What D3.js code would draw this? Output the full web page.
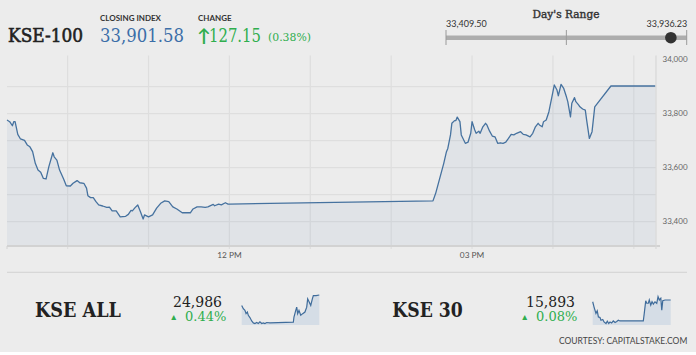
<!DOCTYPE html>
<html><head><meta charset="utf-8">
<script src="https://cdn.jsdelivr.net/npm/d3@7"></script>
<style>
html,body{margin:0;padding:0;background:#ececec;}
svg{display:block;}
</style></head>
<body>
<svg id="c" width="696" height="355"></svg>
<script>
// ---- data ----
const kseTimes = ["09:15","09:17","09:19","09:20","09:21","09:23","09:25","09:28","09:30","09:32","09:34","09:36","09:38","09:40","09:42","09:44","09:46","09:49","09:50","09:52","09:54","09:57","09:59","10:02","10:04","10:07","10:09","10:12","10:14","10:15","10:17","10:19","10:21","10:23","10:26","10:29","10:31","10:33","10:36","10:39","10:43","10:45","10:47","10:48","10:50","10:52","10:54","10:56","10:57","11:00","11:03","11:06","11:09","11:12","11:15","11:18","11:21","11:25","11:28","11:31","11:33","11:36","11:39","11:42","11:44","11:48","11:49","11:52","11:54","11:57","11:59","12:00","14:31","14:33","14:35","14:37","14:39","14:41","14:42","14:44","14:45","14:47","14:48","14:49","14:51","14:52","14:55","14:57","14:59","15:00","15:02","15:03","15:05","15:06","15:08","15:10","15:11","15:13","15:15","15:17","15:19","15:21","15:23","15:25","15:27","15:29","15:31","15:33","15:36","15:38","15:40","15:43","15:45","15:47","15:49","15:50","15:52","15:53","15:55","15:57","15:59","16:01","16:03","16:04","16:06","16:08","16:10","16:11","16:13","16:14","16:16","16:17","16:19","16:20","16:22","16:24","16:25","16:27","16:29","16:31","16:33","16:43","17:16"];
const kseValues = [33776,33770,33755,33770,33770,33723,33706,33701,33684,33677,33659,33616,33591,33583,33560,33558,33603,33655,33640,33628,33591,33558,33533,33532,33542,33552,33544,33542,33524,33496,33489,33489,33474,33462,33458,33453,33454,33440,33440,33418,33420,33427,33442,33440,33452,33462,33437,33410,33425,33418,33425,33450,33468,33477,33474,33455,33447,33433,33433,33433,33447,33455,33455,33453,33455,33464,33459,33465,33462,33470,33465,33465,33477,33505,33542,33579,33616,33659,33671,33721,33764,33774,33774,33787,33770,33721,33690,33694,33727,33770,33739,33727,33735,33727,33751,33764,33758,33735,33717,33714,33690,33692,33690,33694,33708,33723,33721,33727,33733,33723,33721,33714,33727,33751,33764,33758,33751,33770,33776,33807,33856,33906,33887,33866,33908,33893,33862,33844,33788,33838,33859,33844,33832,33825,33817,33813,33776,33708,33733,33825,33838,33902,33902];
const yTickValues = [33400,33600,33800,34000];
const yGridValues = [33400,33500,33600,33700,33800,33900];
const xTickLabels = ["12:00","15:00"];

const closingIndex = "33,901.58";
const changeValue = "127.15";
const changePct = "(0.38%)";
const dayLow = 33409.50, dayHigh = 33936.23, dayClose = 33901.58;

const allTimes = ["09:15","09:25","09:35","09:42","09:50","09:56","10:06","10:17","10:27","10:37","10:48","10:58","11:08","11:19","11:29","11:39","11:50","12:10","14:35","14:39","14:50","14:56","15:02","15:10","15:21","15:33","15:47","15:58","16:04","16:14","16:23","16:33","16:39","16:56","17:16"];
const allValues = [24880,24847,24830,24797,24813,24780,24757,24723,24703,24697,24707,24697,24713,24697,24703,24697,24707,24703,24710,24763,24830,24863,24797,24830,24780,24797,24813,24863,24947,24913,24880,24947,24980,24980,24986];
const k30Times = ["09:15","09:23","09:29","09:35","09:43","09:50","10:00","10:06","10:17","10:25","10:37","10:45","10:54","11:02","11:12","11:22","11:33","11:43","11:53","12:03","14:27","14:33","14:42","14:48","14:58","15:04","15:13","15:21","15:29","15:39","15:50","15:58","16:06","16:15","16:21","16:27","16:41","17:16"];
const k30Values = [15879,15839,15813,15787,15807,15759,15755,15733,15739,15719,15707,15725,15707,15719,15711,15727,15715,15723,15733,15727,15727,15787,15887,15867,15867,15893,15853,15879,15861,15879,15867,15919,15893,15907,15813,15887,15893,15893];

// ---- drawing ----
const parse = d3.timeParse("%H:%M");
const svg = d3.select("#c");
const serif = "'DejaVu Serif', serif";
const sans = "Lato, 'Open Sans', sans-serif";
const green = "#2fae4e";

// header
svg.append("text").attr("x", 8).attr("y", 42).attr("font-family", serif)
  .attr("font-size", 18).attr("fill", "#222").attr("stroke", "#222").attr("stroke-width", 0.6)
  .attr("textLength", 75).attr("lengthAdjust", "spacingAndGlyphs").text("KSE-100");
svg.append("text").attr("x", 100).attr("y", 21.3).attr("font-family", sans).attr("font-weight", "bold")
  .attr("font-size", 8).attr("fill", "#333").text("CLOSING INDEX");
svg.append("text").attr("x", 100).attr("y", 42).attr("font-family", serif)
  .attr("font-size", 18).attr("fill", "#3b6ea8").attr("textLength", 84).attr("lengthAdjust", "spacingAndGlyphs").text(closingIndex);
svg.append("text").attr("x", 198).attr("y", 21.3).attr("font-family", sans).attr("font-weight", "bold")
  .attr("font-size", 8).attr("fill", "#333").text("CHANGE");
svg.append("text").attr("x", 197).attr("y", 42).attr("font-family", sans).attr("font-weight", "bold")
  .attr("font-size", 18).attr("fill", green).text("\u2191");
svg.append("text").attr("x", 209).attr("y", 42).attr("font-family", serif)
  .attr("font-size", 18).attr("fill", green).attr("textLength", 52).attr("lengthAdjust", "spacingAndGlyphs").text(changeValue);
svg.append("text").attr("x", 268).attr("y", 41).attr("font-family", serif)
  .attr("font-size", 11.5).attr("fill", green).attr("textLength", 43).attr("lengthAdjust", "spacingAndGlyphs").text(changePct);

// day's range
const rx = d3.scaleLinear().domain([dayLow, dayHigh]).range([446, 686.7]);
svg.append("text").attr("x", 566).attr("y", 18.3).attr("text-anchor", "middle").attr("font-family", serif)
  .attr("font-size", 11).attr("fill", "#333").attr("stroke", "#333").attr("stroke-width", 0.4)
  .attr("textLength", 67).attr("lengthAdjust", "spacingAndGlyphs").text("Day's Range");
svg.append("text").attr("x", rx(dayLow)).attr("y", 26.7).attr("font-family", sans)
  .attr("font-size", 9).attr("fill", "#333").text(d3.format(",.2f")(dayLow));
svg.append("text").attr("x", rx(dayHigh) + 0.5).attr("y", 26.7).attr("text-anchor", "end").attr("font-family", sans)
  .attr("font-size", 9).attr("fill", "#333").text(d3.format(",.2f")(dayHigh));
svg.append("rect").attr("x", rx(dayLow)).attr("y", 35.5).attr("width", rx(dayHigh) - rx(dayLow)).attr("height", 4.5).attr("fill", "#adadad");
[dayLow, (dayLow + dayHigh) / 2, dayHigh].forEach(v => {
  svg.append("line").attr("x1", rx(v)).attr("x2", rx(v)).attr("y1", 30).attr("y2", 45).attr("stroke", "#9a9a9a").attr("stroke-width", 1);
});
svg.append("circle").attr("cx", rx(dayClose)).attr("cy", 37.7).attr("r", 5.8).attr("fill", "#333");

// main chart
const x = d3.scaleTime().domain([parse("09:15"), parse("17:16")]).range([7, 655.4]);
const y = d3.scaleLinear().domain([33310, 34016]).range([246, 55.2]);
const data = kseTimes.map((t, i) => ({t: parse(t), v: kseValues[i]}));

svg.append("clipPath").attr("id", "clipTop").append("rect").attr("x", 0).attr("y", 55.5).attr("width", 696).attr("height", 215);
const g = svg.append("g").attr("clip-path", "url(#clipTop)");

// grid
g.selectAll(".hg").data(yGridValues).enter().append("line")
  .attr("x1", 7).attr("x2", 656).attr("y1", d => y(d)).attr("y2", d => y(d))
  .attr("stroke", "#dedede").attr("stroke-width", 1.2);
const hours = d3.timeHour.range(parse("10:00"), parse("17:30"));
g.selectAll(".vg").data(hours).enter().append("line")
  .attr("x1", d => x(d)).attr("x2", d => x(d)).attr("y1", 55).attr("y2", 249)
  .attr("stroke", "#dedede").attr("stroke-width", 1.2);

// area + line
const area = d3.area().x(d => x(d.t)).y0(y(33310)).y1(d => y(d.v));
const line = d3.line().x(d => x(d.t)).y(d => y(d.v));
g.append("path").datum(data).attr("d", area).attr("fill", "#5a84b0").attr("fill-opacity", 0.08);
g.append("path").datum(data).attr("d", line).attr("fill", "none").attr("stroke", "#46729f").attr("stroke-width", 1.3).attr("stroke-linejoin", "round");

// axes lines
g.append("line").attr("x1", 7).attr("x2", 660).attr("y1", 246).attr("y2", 246).attr("stroke", "#d2d2d2").attr("stroke-width", 2);
g.append("line").attr("x1", 7).attr("x2", 7).attr("y1", 246).attr("y2", 249).attr("stroke", "#d2d2d2").attr("stroke-width", 1);
g.append("line").attr("x1", 656).attr("x2", 656).attr("y1", 55).attr("y2", 249).attr("stroke", "#d8d8d8").attr("stroke-width", 1.2);

// y labels
g.selectAll(".yl").data(yTickValues).enter().append("text")
  .attr("x", 662.5).attr("y", d => y(d)).attr("dy", "0.35em")
  .attr("font-family", sans).attr("font-size", 8).attr("fill", "#666")
  .text(d => d3.format(",")(d));
// x labels
g.selectAll(".xl").data(xTickLabels.map(parse)).enter().append("text")
  .attr("x", d => x(d)).attr("y", 258.3).attr("text-anchor", "middle")
  .attr("font-family", sans).attr("font-size", 8.3).attr("fill", "#555")
  .text(d => d3.timeFormat("%I %p")(d));

// separator
svg.append("line").attr("x1", 7).attr("x2", 687).attr("y1", 272.3).attr("y2", 272.3).attr("stroke", "#d3d3d3").attr("stroke-width", 1);

// bottom panels
function panel(name, nameX, nameW, value, valueCx, pct, triX, pctX, times, values, sx0, sx1, syTop) {
  svg.append("text").attr("x", nameX).attr("y", 316.7).attr("font-family", serif).attr("font-weight", "bold")
    .attr("font-size", 21).attr("fill", "#222").attr("textLength", nameW).attr("lengthAdjust", "spacingAndGlyphs").text(name);
  svg.append("text").attr("x", valueCx).attr("y", 306.5).attr("text-anchor", "middle").attr("font-family", serif)
    .attr("font-size", 14).attr("fill", "#222").text(value);
  svg.append("text").attr("x", triX).attr("y", 319.5).attr("font-family", sans)
    .attr("font-size", 8.5).attr("fill", green).text("\u25B2");
  svg.append("text").attr("x", pctX).attr("y", 321).attr("font-family", serif)
    .attr("font-size", 13).attr("fill", green).text(pct);
  const sd = times.map((t, i) => ({t: parse(t), v: values[i]}));
  const sx = d3.scaleTime().domain([parse("09:15"), parse("17:16")]).range([sx0, sx1]);
  const sy = d3.scaleLinear().domain(d3.extent(values)).range([323.5, syTop]);
  svg.append("path").datum(sd).attr("d", d3.area().x(d => sx(d.t)).y0(325).y1(d => sy(d.v)))
    .attr("fill", "#d5dde6");
  svg.append("path").datum(sd).attr("d", d3.line().x(d => sx(d.t)).y(d => sy(d.v)))
    .attr("fill", "none").attr("stroke", "#3f6c9b").attr("stroke-width", 1.2);
}
panel("KSE ALL", 35, 86, d3.format(",")(24986), 197.5, "0.44%", 169.5, 185, allTimes, allValues, 241.7, 319.3, 295);
panel("KSE 30", 392.3, 70.5, d3.format(",")(15893), 550.5, "0.08%", 520.5, 536, k30Times, k30Values, 592.7, 670.7, 296.7);

svg.append("text").attr("x", 687.3).attr("y", 344).attr("text-anchor", "end").attr("font-family", sans)
  .attr("font-size", 8.5).attr("fill", "#444").text("COURTESY: CAPITALSTAKE.COM");
svg.append("rect").attr("x", 0).attr("y", 352).attr("width", 696).attr("height", 3).attr("fill", "#ffffff");
</script>
</body></html>
